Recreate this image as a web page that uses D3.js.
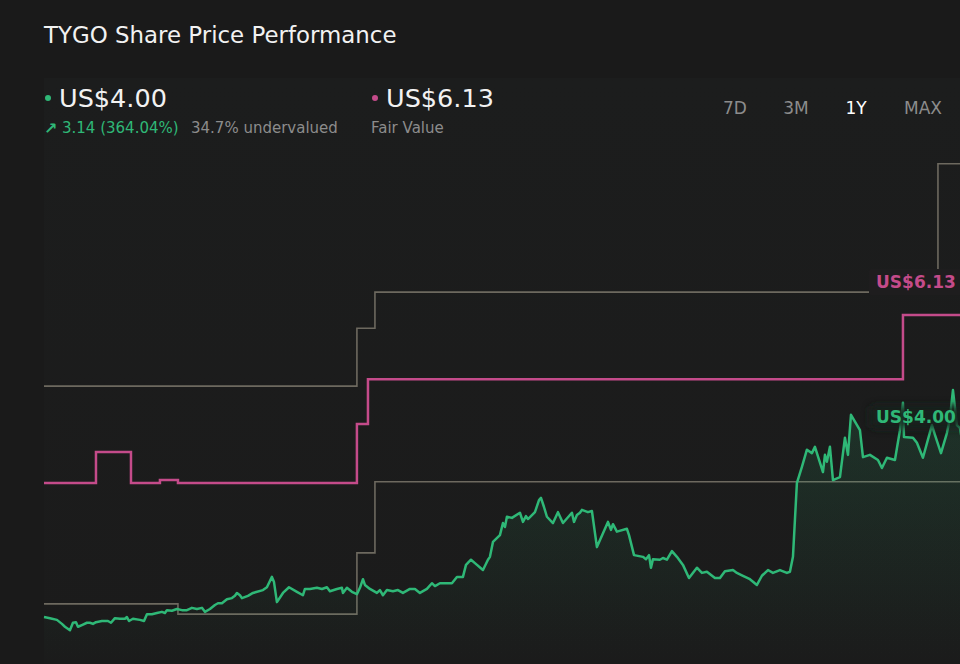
<!DOCTYPE html>
<html>
<head>
<meta charset="utf-8">
<script src="https://cdn.jsdelivr.net/npm/d3@7"></script>
<style>
  html, body { margin: 0; padding: 0; background: #1a1a1a; }
  svg { display: block; }
  text { font-family: "DejaVu Sans", sans-serif; }
</style>
</head>
<body>
<svg id="chart" width="960" height="664"></svg>
<script>
// ---------- DATA ----------
const title = "TYGO Share Price Performance";
const ticker = "TYGO";
const lastPrice = 4.00;
const fairValue = 6.13;
const changeText = "3.14 (364.04%)";
const valuationText = "34.7% undervalued";
const rangeButtons = ["7D", "3M", "1Y", "MAX"];
const activeRange = "1Y";
const startDate = new Date(2023, 10, 1);
const totalDays = 367;

// share price: day offset from start, price (US$)
const priceDays = [0,2.4,5.2,7.2,8.4,10.4,11.6,12.8,13.6,15.2,17.2,18.4,19.6,20.8,23.2,25.6,26.8,28.4,30.4,32.4,33.2,34,35.6,38.4,40,41.2,43.2,45.2,47.2,48.4,49.2,51.2,53.2,55.2,57.2,59.2,61.2,63.2,64.4,66.4,68.4,69.6,71.2,73.2,75.2,76.4,77.2,78.4,79.2,81.6,83.6,87.6,89.2,91.2,92,93.2,95.6,98,101.2,103.6,104.4,106.4,109.2,111.2,113.2,114.4,117.2,119.2,119.6,121.2,123.2,125.2,126.4,127.6,128.4,130.4,133.2,134.4,135.6,137.2,139.6,141.6,143.6,146.4,148.4,150.4,153.2,155.2,156.4,158.4,163.2,165.2,167.6,168.8,170.8,172.4,175.6,177.6,178.4,179.6,182.4,183.6,184.4,185.2,187.2,190.4,191.6,192.8,193.6,196.4,198,198.8,200,201.2,203.6,205.6,207.6,211.2,212,213.2,214.4,215.2,217.6,219.2,221.2,225.6,226.8,227.6,229.2,233.2,234,236,239.6,240.8,242,242.8,243.6,246.4,247.6,249.2,251.2,253.2,255.6,258,261.2,263.2,265.2,268.4,270.4,272.4,275.6,277.2,279.6,282.4,285.2,287.2,289.6,291.6,294.4,297.2,298.4,299.6,300.4,301.2,303.2,305.2,307.2,308.4,311.6,312.4,313.2,314.4,315.6,318.4,320.4,321.6,322.8,326.4,327.6,330.4,333.6,335.2,337.2,340.4,342.4,343.6,344,347.6,349.2,351.6,355.2,356.4,358.8,361.2,362.4,363.6,365.2,366.4,367];
const priceValues = [0.86,0.84,0.81,0.74,0.69,0.63,0.76,0.77,0.69,0.72,0.76,0.76,0.74,0.77,0.79,0.79,0.76,0.84,0.83,0.83,0.86,0.79,0.83,0.81,0.79,0.91,0.91,0.93,0.95,0.93,0.98,0.97,1.00,0.98,0.98,1.02,1.00,1.02,0.95,1.00,1.07,1.10,1.10,1.17,1.19,1.23,1.28,1.24,1.19,1.23,1.28,1.33,1.38,1.56,1.47,1.12,1.28,1.38,1.30,1.24,1.35,1.35,1.37,1.35,1.38,1.31,1.35,1.37,1.28,1.37,1.30,1.26,1.37,1.52,1.42,1.35,1.28,1.33,1.24,1.33,1.31,1.33,1.28,1.35,1.35,1.28,1.35,1.45,1.40,1.45,1.45,1.56,1.56,1.77,1.86,1.80,1.68,1.86,1.91,2.17,2.29,2.50,2.43,2.61,2.59,2.68,2.52,2.62,2.57,2.69,2.90,2.94,2.78,2.61,2.50,2.69,2.50,2.68,2.52,2.64,2.68,2.73,2.69,2.71,2.08,2.52,2.38,2.48,2.35,2.40,2.29,1.94,1.91,1.87,1.94,1.72,1.87,1.86,1.89,1.86,2.01,1.91,1.77,1.54,1.72,1.63,1.65,1.54,1.54,1.66,1.68,1.63,1.58,1.52,1.42,1.58,1.68,1.63,1.68,1.63,1.65,1.91,2.56,3.20,3.48,3.78,3.72,3.83,3.39,3.69,3.57,3.83,3.25,3.30,3.99,3.69,4.39,4.12,3.65,3.69,3.60,3.46,3.64,3.60,4.12,4.60,4.00,3.99,3.90,3.64,4.21,4.04,3.72,4.07,4.33,4.82,4.21,4.16,4.00];

// fair value (step): day offset where value starts, value
const fairDays = [0, 20.8, 34.8, 46.4, 53.6, 125.2, 129.6, 343.6];
const fairValues = [3.20, 3.74, 3.20, 3.25, 3.20, 4.23, 5.01, 6.13];

// analyst range bands (step)
const highDays = [0, 125.2, 132.4, 357.6];
const highValues = [4.89, 5.90, 6.53, 8.77];
const lowDays = [0, 53.6, 125.2, 132.4];
const lowValues = [1.09, 0.91, 1.98, 3.22];

// ---------- CHART ----------
const W = 960, H = 664;
const svg = d3.select("#chart");
const C = {
  bg: "#1a1a1a", green: "#2fb877", pink: "#c44b8a", gray: "#6d695f",
  white: "#f2f2f2", muted: "#8c8c8c"
};

const dayToDate = d => d3.timeHour.offset(startDate, d * 24);
const x = d3.scaleTime()
  .domain([startDate, dayToDate(totalDays)])
  .range([44, 961.5]);
const y = d3.scaleLinear().domain([0, 10]).range([666.3, 93.3]);

svg.append("rect").attr("width", W).attr("height", H).attr("fill", C.bg);

const defs = svg.append("defs");
const plotBg = defs.append("linearGradient").attr("id", "plotbg")
  .attr("x1", 0).attr("y1", 0).attr("x2", 0).attr("y2", 1);
plotBg.append("stop").attr("offset", "0%").attr("stop-color", "#1c1d1d");
plotBg.append("stop").attr("offset", "100%").attr("stop-color", "#1b1b1b");
svg.append("rect").attr("x", x.range()[0]).attr("y", 78)
  .attr("width", W - x.range()[0]).attr("height", H - 78)
  .attr("fill", "url(#plotbg)");

const areaGrad = defs.append("linearGradient").attr("id", "areaGrad")
  .attr("x1", 0).attr("y1", 0).attr("x2", 0).attr("y2", 1);
areaGrad.append("stop").attr("offset", "0%").attr("stop-color", C.green).attr("stop-opacity", 0.16);
areaGrad.append("stop").attr("offset", "100%").attr("stop-color", C.green).attr("stop-opacity", 0.0);

const glow = defs.append("filter").attr("id", "glow")
  .attr("x", "-30%").attr("y", "-60%").attr("width", "160%").attr("height", "220%");
glow.append("feGaussianBlur").attr("stdDeviation", 4);

const clip = defs.append("clipPath").attr("id", "plotclip");
clip.append("rect").attr("x", 0).attr("y", 70).attr("width", W).attr("height", H - 70);

const plot = svg.append("g").attr("clip-path", "url(#plotclip)");

const price = priceDays.map((d, i) => ({ date: dayToDate(d), v: priceValues[i] }));
const stepData = (days, vals) => {
  const pts = days.map((d, i) => ({ date: dayToDate(d), v: vals[i] }));
  pts.push({ date: dayToDate(totalDays + 5), v: vals[vals.length - 1] });
  return pts;
};

const stepLine = d3.line().x(d => x(d.date)).y(d => y(d.v)).curve(d3.curveStepAfter);

plot.append("path").datum(stepData(highDays, highValues))
  .attr("d", stepLine).attr("fill", "none").attr("stroke", C.gray).attr("stroke-width", 1.6);
plot.append("path").datum(stepData(lowDays, lowValues))
  .attr("d", stepLine).attr("fill", "none").attr("stroke", C.gray).attr("stroke-width", 1.6);

const area = d3.area().x(d => x(d.date)).y0(H).y1(d => y(d.v)).curve(d3.curveLinear);
plot.append("path").datum(price).attr("d", area).attr("fill", "url(#areaGrad)");

plot.append("path").datum(stepData(fairDays, fairValues))
  .attr("d", stepLine).attr("fill", "none").attr("stroke", C.pink).attr("stroke-width", 2.5);

const line = d3.line().x(d => x(d.date)).y(d => y(d.v)).curve(d3.curveLinear);
plot.append("path").datum(price).attr("d", line).attr("fill", "none")
  .attr("stroke", C.green).attr("stroke-width", 2.5).attr("stroke-linejoin", "round");

// end labels
const labelX = 876;
const fvY = y(fairValue) - 33;
svg.append("rect").attr("x", labelX - 7).attr("y", fvY - 13).attr("width", 110).attr("height", 26)
  .attr("rx", 2).attr("fill", "#1e1d1e");
svg.append("text").attr("x", labelX).attr("y", fvY).attr("dy", "0.36em")
  .attr("font-size", 17).attr("font-weight", "bold").attr("fill", C.pink)
  .text("US$" + fairValue.toFixed(2));
const pY = y(lastPrice) - 20;
svg.append("rect").attr("x", labelX - 6).attr("y", pY - 11).attr("width", 110).attr("height", 22)
  .attr("rx", 4).attr("fill", "#16241d").attr("opacity", 0.9).attr("filter", "url(#glow)");
svg.append("text").attr("x", labelX).attr("y", pY).attr("dy", "0.36em")
  .attr("font-size", 17).attr("font-weight", "bold").attr("fill", C.green)
  .text("US$" + lastPrice.toFixed(2));

// ---------- HEADER ----------
svg.append("text").attr("x", 44).attr("y", 43).attr("font-size", 22.9)
  .attr("fill", C.white).text(title);

svg.append("circle").attr("cx", 48).attr("cy", 98).attr("r", 3).attr("fill", C.green);
svg.append("text").attr("x", 59).attr("y", 107).attr("font-size", 25.5)
  .attr("fill", C.white).text("US$" + lastPrice.toFixed(2));
svg.append("text").attr("x", 44).attr("y", 134).attr("font-size", 16).attr("font-weight", "bold")
  .attr("fill", C.green).text("↗");
svg.append("text").attr("x", 62).attr("y", 133).attr("font-size", 15)
  .attr("fill", C.green).text(changeText);
svg.append("text").attr("x", 191).attr("y", 133).attr("font-size", 15)
  .attr("fill", C.muted).text(valuationText);

svg.append("circle").attr("cx", 375).attr("cy", 98).attr("r", 3).attr("fill", C.pink);
svg.append("text").attr("x", 386).attr("y", 107).attr("font-size", 25.5)
  .attr("fill", C.white).text("US$" + fairValue.toFixed(2));
svg.append("text").attr("x", 371).attr("y", 133).attr("font-size", 15)
  .attr("fill", C.muted).text("Fair Value");

const btnX = [735, 796, 856, 923];
rangeButtons.forEach((b, i) => {
  svg.append("text").attr("x", btnX[i]).attr("y", 114).attr("text-anchor", "middle")
    .attr("font-size", 17).attr("fill", b === activeRange ? "#ffffff" : C.muted).text(b);
});
</script>
</body>
</html>
